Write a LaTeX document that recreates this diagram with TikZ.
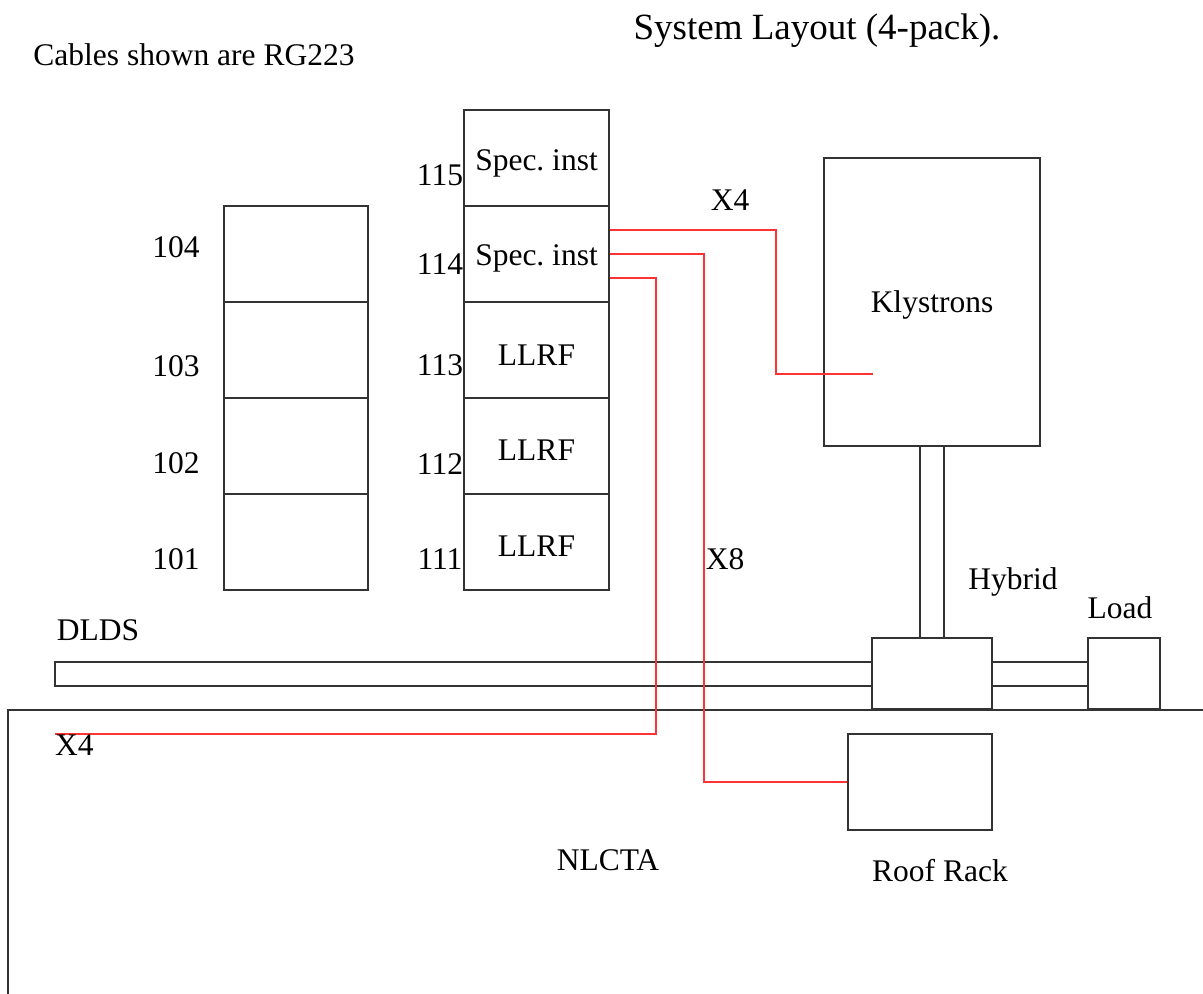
\documentclass[tikz,border=0pt]{standalone}
\usepackage{fontspec}
\setmainfont{Liberation Serif}
\frenchspacing
\definecolor{lc}{HTML}{333333}
\definecolor{rc}{HTML}{FF3333}
\tikzset{
  box/.style={draw=lc, line width=2pt, rectangle, inner sep=0pt},
  cable/.style={draw=rc, line width=2pt},
  wall/.style={draw=lc, line width=2pt},
  lbl/.style={inner sep=0pt, yshift=-3pt, font=\fontsize{31.5}{36}\selectfont},
  ttl/.style={inner sep=0pt, font=\fontsize{37}{42}\selectfont}
}
\begin{document}
\begin{tikzpicture}[x=1pt,y=-1pt]
\useasboundingbox (0,0) rectangle (1203,994);
% left rack
\foreach \n/\y in {104/254,103/350,102/446,101/542}{
  \node[box, minimum width=144pt, minimum height=96pt] (a\n) at (296,\y) {};
}
\node[lbl] (l104) at (176,244) {104};
\node[lbl] (l103) at (176,363) {103};
\node[lbl] (l102) at (176,460) {102};
\node[lbl] (l101) at (176,556) {101};
% middle rack
\node[box, minimum width=145pt, minimum height=96pt] (b115) at (536.5,158) {};
\node[box, minimum width=145pt, minimum height=96pt] (b114) at (536.5,254) {};
\node[box, minimum width=145pt, minimum height=96pt] (b113) at (536.5,350) {};
\node[box, minimum width=145pt, minimum height=96pt] (b112) at (536.5,446) {};
\node[box, minimum width=145pt, minimum height=96pt] (b111) at (536.5,542) {};
\node[lbl] (t115) at (536.5,160) {Spec. inst};
\node[lbl] (t114) at (536.5,255) {Spec. inst};
\node[lbl] (t113) at (536.5,352) {LLRF};
\node[lbl] (t112) at (536.5,447) {LLRF};
\node[lbl] (t111) at (536.5,543) {LLRF};
\node[lbl] (l115) at (440,172) {115};
\node[lbl] (l114) at (440,261) {114};
\node[lbl] (l113) at (440,362) {113};
\node[lbl] (l112) at (440,461) {112};
\node[lbl] (l111) at (440,556) {111};
% klystrons and waveguides
\node[box, minimum width=216pt, minimum height=288pt] (kly) at (932,302) {};
\node[lbl] (tkly) at (932,302) {Klystrons};
\node[box, minimum width=24pt, minimum height=192pt] (wg) at (932,542) {};
\node[box, minimum width=96pt, minimum height=24pt] (wg2) at (1040,674) {};
\node[box, minimum width=817pt, minimum height=24pt] (dlds) at (463.5,674) {};
\node[box, fill=white, minimum width=120pt, minimum height=71.5pt] (hyb) at (932,673.5) {};
\node[box, fill=white, minimum width=72pt, minimum height=71.5pt] (load) at (1124,673.5) {};
\node[box, minimum width=144pt, minimum height=96pt] (roof) at (920,782) {};
% NLCTA enclosure
\coordinate (n1) at (8,994);
\coordinate (n2) at (8,710);
\coordinate (n3) at (1203,710);
\draw[wall] (n1) -- (n2) -- (n3);
% cables
\coordinate (kend) at (873,374);
\coordinate (x4end) at (55,734);
\draw[cable] ([yshift=24pt]b114.east) -| (776,374) -- (kend);
\draw[cable] (b114.east) -| (704,782) -- (roof.west);
\draw[cable] ([yshift=-24pt]b114.east) -| (656,734) -- (x4end);
% labels
\node[lbl] (hybl) at (1013,579) {Hybrid};
\node[lbl] (loadl) at (1120,605) {Load};
\node[lbl] (dldsl) at (98,627) {DLDS};
\node[lbl, anchor=north west, yshift=3pt] (x4a) at (55,735) {X4};
\node[lbl] (x4b) at (730,197) {X4};
\node[lbl] (x8) at (725,556) {X8};
\node[lbl] (nlcta) at (608,857) {NLCTA};
\node[lbl] (roofl) at (940,868) {Roof Rack};
\node[lbl] (cables) at (194,52) {Cables shown are RG223};
\node[ttl] (title) at (817,31) {System Layout (4-pack).};
\end{tikzpicture}
\end{document}
